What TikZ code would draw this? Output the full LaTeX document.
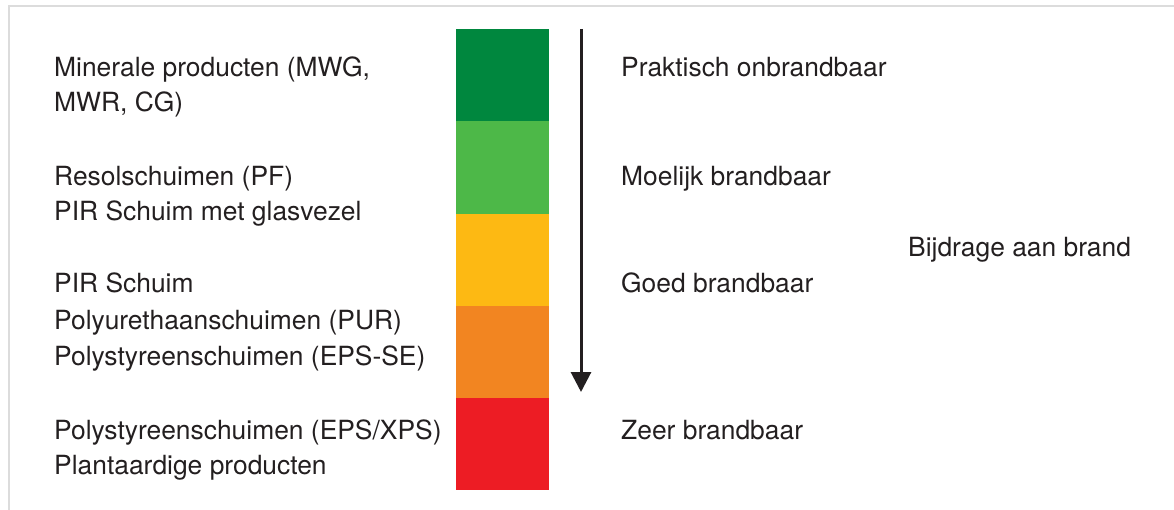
\documentclass[tikz,border=0pt]{standalone}
\usepackage{fontspec}
\setmainfont{TeX Gyre Heros}
\usetikzlibrary{arrows.meta}
\definecolor{txt}{HTML}{231F20}
\definecolor{framec}{HTML}{DCDCDC}
\definecolor{c1}{HTML}{00873E}
\definecolor{c2}{HTML}{4DB848}
\definecolor{c3}{HTML}{FDB913}
\definecolor{c4}{HTML}{F28521}
\definecolor{c5}{HTML}{ED1C24}
\begin{document}
\begin{tikzpicture}[x=1pt,y=-1pt,
  lbl/.style={anchor=base west,inner sep=0pt,text=txt,font=\fontsize{26.4}{31}\selectfont},
  seg/.style={fill=#1,draw=none,minimum width=93pt,minimum height=92.2pt,inner sep=0pt,anchor=north west}]
\useasboundingbox (0,0) rectangle (1174,510);
\draw[framec,line width=2pt] (1174,6) -- (9,6) -- (9,510);
% colour bar
\node[seg=c1] (s1) at (456,29) {};
\node[seg=c2] (s2) at (456,121.2) {};
\node[seg=c3] (s3) at (456,213.4) {};
\node[seg=c4] (s4) at (456,305.6) {};
\node[seg=c5] (s5) at (456,397.8) {};
% arrow
\coordinate (a0) at (581,29);
\coordinate (a1) at (581,392);
\draw[txt,line width=3pt,-{Triangle[width=20pt,length=20pt]}] (a0) -- (a1);
% left labels
\node[lbl] (l1) at (54,77) {Minerale producten (MWG,};
\node[lbl] (l2) at (54,112) {MWR, CG)};
\node[lbl] (l3) at (54,186) {Resolschuimen (PF)};
\node[lbl] (l4) at (54,221) {PIR Schuim met glasvezel};
\node[lbl] (l5) at (54,293) {PIR Schuim};
\node[lbl] (l6) at (54,329) {Polyurethaanschuimen (PUR)};
\node[lbl] (l7) at (54,365) {Polystyreenschuimen (EPS-SE)};
\node[lbl] (l8) at (54,439) {Polystyreenschuimen (EPS/XPS)};
\node[lbl] (l9) at (54,474) {Plantaardige producten};
% right labels
\node[lbl] (r1) at (621,77) {Praktisch onbrandbaar};
\node[lbl] (r2) at (621,186) {Moelijk brandbaar};
\node[lbl] (r3) at (621,293) {Goed brandbaar};
\node[lbl] (r4) at (621,439) {Zeer brandbaar};
\node[lbl] (r5) at (908,257) {Bijdrage aan brand};
\end{tikzpicture}
\end{document}
